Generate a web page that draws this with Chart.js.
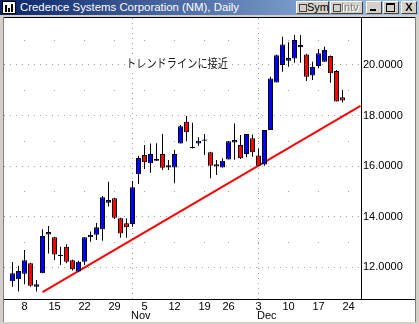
<!DOCTYPE html>
<html lang="ja">
<head>
<meta charset="utf-8">
<title>Credence Systems Corporation (NM), Daily</title>
<script src="https://cdn.jsdelivr.net/npm/chart.js@4.4.1/dist/chart.umd.min.js"></script>
<style>
    html, body { margin: 0; padding: 0; background: #ffffff; }
    #ventana { position: relative; width: 419px; height: 324px; overflow: hidden; background: #ffffff;
               font-family: "Liberation Sans", Arial, sans-serif; }
    #grafico { position: absolute; left: 0; top: 0; }
    .marco { position: absolute; background: #d4d0c8; }
    .titulo { position: absolute; left: 0; top: 0; width: 419px; height: 15px;
              background: linear-gradient(to right, #0a246a, #a6caf0); }
    .titulo-texto { position: absolute; left: 20px; top: 0; line-height: 15px; font-size: 11.4px; color: #ffffff;
                    white-space: nowrap; }
    .icono { position: absolute; left: 2px; top: 1px; width: 12px; height: 11px; background: #ffffff;
             border: 1px solid #000000; }
    .icono i { position: absolute; bottom: 1px; width: 2px; background: #000000; }
    .boton { position: absolute; top: 1px; height: 13px; box-sizing: border-box; background: #d4d0c8;
             border-top: 1px solid #ffffff; border-left: 1px solid #ffffff;
             border-right: 1px solid #404040; border-bottom: 1px solid #404040;
             font-size: 11px; line-height: 11px; color: #000000; white-space: nowrap; }
    .casilla { position: absolute; left: 2px; top: 2px; width: 6px; height: 6px; border: 1px solid #404040;
               background: #d4d0c8; }
    .boton span { position: absolute; left: 10px; top: 0; }
    .deshabilitado span { color: #808080; text-shadow: 1px 1px 0 #ffffff; }
</style>
</head>
<body>
<div id="ventana">
    <canvas id="grafico" width="419" height="324"></canvas>

    <div class="titulo">
        <div class="icono"><i style="left:2px;height:7px"></i><i style="left:5px;height:4px"></i><i style="left:8px;height:8px"></i></div>
        <div class="titulo-texto">Credence Systems Corporation (NM), Daily</div>
        <div class="boton" style="left:296px;width:33px"><div class="casilla"></div><span>Sym</span></div>
        <div class="boton deshabilitado" style="left:330px;width:33px"><div class="casilla"></div><span>Intv</span></div>
        <div class="boton" style="left:366px;width:16px"><div style="position:absolute;left:3px;top:7px;width:6px;height:2px;background:#000"></div></div>
        <div class="boton" style="left:383px;width:16px"><div style="position:absolute;left:2px;top:1px;width:7px;height:6px;border:1px solid #000;border-top-width:2px"></div></div>
        <div class="boton" style="left:401px;width:16px;font-weight:bold;text-align:center;line-height:11px">X</div>
    </div>
    <div class="marco" style="left:0;top:15px;width:419px;height:2px"></div>
    <div class="marco" style="left:3px;top:17px;width:413px;height:1px;background:#000000"></div>
    <div class="marco" style="left:0;top:15px;width:3px;height:309px"></div>
    <div class="marco" style="left:3px;top:17px;width:1px;height:307px;background:#808080"></div>
    <div class="marco" style="left:415px;top:17px;width:1px;height:307px;background:#808080"></div>
    <div class="marco" style="left:416px;top:15px;width:3px;height:309px"></div>
    <div class="marco" style="left:0;top:322px;width:419px;height:2px"></div>
</div>

<script>
/**
 * Grafico diario de velas de Credence Systems (NM), oct-dic 2001,
 * con la linea de tendencia alcista y la nota "トレンドラインに接近".
 * Velas: barras flotantes de Chart.js (mecha fina + cuerpo con borde).
 */
"use strict";

// Sesiones (dias habiles, sin el feriado del 22 de noviembre)
var dias = [
    "10/4", "10/5", "10/8", "10/9", "10/10", "10/11", "10/12", "10/15", "10/16", "10/17",
    "10/18", "10/19", "10/22", "10/23", "10/24", "10/25", "10/26", "10/29", "10/30", "10/31",
    "11/1", "11/2", "11/5", "11/6", "11/7", "11/8", "11/9", "11/12", "11/13", "11/14",
    "11/15", "11/16", "11/19", "11/20", "11/21", "11/23", "11/26", "11/27", "11/28", "11/29",
    "11/30", "12/3", "12/4", "12/5", "12/6", "12/7", "12/10", "12/11", "12/12", "12/13",
    "12/14", "12/17", "12/18", "12/19", "12/20", "12/21"
];
var aperturas = [
    11.45, 11.53, 11.74, 12.16, 11.23, 11.76, 13.30, 13.19, 12.45, 12.81,
    12.28, 11.83, 12.22, 13.19, 13.29, 13.50, 14.55, 14.73, 13.94, 13.74,
    13.71, 15.68, 16.44, 16.11, 16.21, 16.48, 16.04, 15.95, 16.90, 17.76,
    16.72, 16.90, 17.00, 16.55, 16.08, 15.95, 16.26, 16.94, 16.84, 16.48,
    17.10, 16.42, 16.07, 17.43, 19.31, 20.00, 20.17, 20.26, 20.70, 20.42,
    19.58, 19.96, 20.13, 20.36, 19.76, 18.72
];
var maximos = [
    12.21, 12.06, 12.68, 12.18, 11.50, 13.50, 13.63, 13.21, 12.81, 12.91,
    12.30, 12.26, 13.19, 13.42, 13.75, 14.82, 15.38, 14.75, 13.96, 13.94,
    15.41, 16.41, 16.84, 16.90, 16.91, 17.27, 16.24, 16.64, 17.63, 17.98,
    17.72, 17.14, 17.27, 16.57, 16.24, 16.31, 16.99, 17.69, 17.23, 17.27,
    17.25, 16.70, 17.43, 19.54, 20.42, 21.12, 20.90, 21.19, 21.19, 20.44,
    20.13, 20.63, 20.72, 20.38, 19.80, 19.01
];
var minimos = [
    11.23, 11.04, 11.33, 11.23, 11.04, 11.76, 12.55, 12.29, 12.09, 12.16,
    11.87, 11.81, 12.09, 13.01, 13.08, 13.05, 14.40, 13.91, 13.17, 13.17,
    13.60, 15.29, 15.89, 15.74, 16.20, 15.85, 15.85, 15.32, 16.90, 16.98,
    16.70, 16.81, 16.44, 15.52, 15.65, 15.95, 16.26, 16.25, 16.28, 16.35,
    16.37, 16.00, 16.02, 17.43, 19.31, 19.73, 19.93, 20.09, 20.09, 19.37,
    19.41, 19.87, 20.13, 19.30, 18.56, 18.52
];
var cierres = [
    11.76, 11.85, 12.28, 11.27, 11.33, 13.24, 13.40, 12.51, 12.50, 12.22,
    11.92, 12.22, 13.19, 13.29, 13.58, 14.77, 14.66, 13.96, 13.34, 13.58,
    15.17, 16.32, 16.15, 16.48, 16.28, 15.94, 15.95, 16.48, 17.58, 17.34,
    16.77, 17.00, 17.05, 16.02, 15.99, 16.21, 16.98, 17.03, 16.31, 17.27,
    16.55, 16.02, 17.43, 19.47, 20.39, 20.81, 20.28, 20.99, 20.79, 19.54,
    19.93, 20.46, 20.59, 19.67, 18.56, 18.60
];

// Eje X: lunes de cada semana (posicion = numero de sesion) y meses
var semanaIdx = [3, 8, 13, 18, 23, 28, 33, 37, 42, 47, 52, 57];
var semanaEtiquetas = ["8", "15", "22", "29", "5", "12", "19", "26", "3", "10", "17", "24"];
var mesIdx = [21, 42];
var mesEtiquetas = ["Nov", "Dec"];

// Eje Y
var yTicks = [12, 14, 16, 18, 20];
var yPuntos = [13, 15, 17, 19, 21];

// Linea de tendencia (sesion, precio)
var tendenciaX = [6, 59];
var tendenciaY = [11.02, 18.38];

var nota = "トレンドラインに接近";

(function () {
    var FUENTE = "'Liberation Sans', Arial, sans-serif";

    /** Lineas de mes, cuadricula de puntos y prolongacion del eje X. */
    var decoraciones = {
        id: "decoraciones",
        beforeDatasetsDraw: function (chart) {
            var ctx = chart.ctx, area = chart.chartArea;
            var x = chart.scales.x, y = chart.scales.y;
            ctx.save();
            ctx.strokeStyle = "#a0a0a0";
            ctx.lineWidth = 1;
            ctx.setLineDash([1, 4]);
            mesIdx.forEach(function (i) {
                var px = x.getPixelForValue(i);
                ctx.beginPath();
                ctx.moveTo(px, area.top);
                ctx.lineTo(px, area.bottom);
                ctx.stroke();
            });
            ctx.fillStyle = "#a0a0a0";
            semanaIdx.forEach(function (i) {
                var px = Math.floor(x.getPixelForValue(i));
                yPuntos.forEach(function (v) {
                    ctx.fillRect(px, Math.round(y.getPixelForValue(v)), 1, 1);
                });
            });
            ctx.restore();
        },
        afterDraw: function (chart) {
            var ctx = chart.ctx, area = chart.chartArea, x = chart.scales.x;
            ctx.save();
            ctx.strokeStyle = "#000000";
            ctx.lineWidth = 1;
            ctx.beginPath();
            ctx.moveTo(area.right, area.bottom + 0.5);
            ctx.lineTo(415, area.bottom + 0.5);
            ctx.stroke();

            ctx.fillStyle = "#000000";
            ctx.font = "11px " + FUENTE;
            ctx.textAlign = "left";
            ctx.textBaseline = "middle";
            mesIdx.forEach(function (i, k) {
                ctx.fillText(mesEtiquetas[k], Math.floor(x.getPixelForValue(i)) - 1, 316);
            });

            // nota en japones, sobre fondo blanco
            ctx.fillStyle = "#ffffff";
            ctx.fillRect(125, 56, 105, 14);
            ctx.font = "12px 'Noto Sans CJK JP', sans-serif";
            var ancho = ctx.measureText(nota).width;
            ctx.translate(126, 63);
            ctx.scale(102 / ancho, 1);
            ctx.fillStyle = "#1a1a1a";
            ctx.fillText(nota, 0, 0);
            ctx.restore();
        }
    };

    var velas = dias.map(function (d, i) { return i + 1; });
    var colores = velas.map(function (n, i) {
        return cierres[i] >= aperturas[i] ? "#0000ff" : "#ff0000";
    });

    new Chart(document.getElementById("grafico").getContext("2d"), {
        type: "bar",
        data: {
            datasets: [{
                type: "line",
                data: tendenciaX.map(function (v, i) { return { x: v, y: tendenciaY[i] }; }),
                borderColor: "#ff0000",
                borderWidth: 2,
                pointRadius: 0,
                fill: false,
                order: 3
            }, {
                data: velas.map(function (n, i) { return { x: n, y: [minimos[i], maximos[i]] }; }),
                backgroundColor: "#000000",
                borderWidth: 0,
                barThickness: 1,
                inflateAmount: 0,
                grouped: false,
                order: 2
            }, {
                data: velas.map(function (n, i) { return { x: n, y: [aperturas[i], cierres[i]] }; }),
                backgroundColor: colores,
                borderColor: "#000000",
                borderWidth: 1,
                borderSkipped: false,
                barThickness: 5,
                inflateAmount: 0,
                grouped: false,
                order: 1
            }]
        },
        options: {
            responsive: false,
            animation: false,
            events: [],
            layout: { padding: { left: 4, top: 18, right: 0, bottom: 0 } },
            plugins: { legend: { display: false }, tooltip: { enabled: false } },
            scales: {
                x: {
                    type: "linear",
                    min: 1 - 8.5 / 6,
                    max: 1 + 348.5 / 6,
                    offset: false,
                    grid: { display: false, drawTicks: false },
                    border: { display: true, color: "#000000", width: 1 },
                    afterBuildTicks: function (s) {
                        s.ticks = semanaIdx.map(function (v) { return { value: v }; });
                    },
                    afterFit: function (s) { s.height = 25; },
                    ticks: {
                        autoSkip: false,
                        maxRotation: 0,
                        padding: 1,
                        color: "#000000",
                        font: { family: FUENTE, size: 11 },
                        callback: function (v) {
                            var k = semanaIdx.indexOf(v);
                            return k >= 0 ? semanaEtiquetas[k] : "";
                        }
                    }
                },
                y: {
                    position: "right",
                    min: 10.7464,
                    max: 21.8586,
                    grid: { color: "#a0a0a0", drawTicks: false },
                    border: { display: true, color: "#000000", width: 1, dash: [1, 5] },
                    afterBuildTicks: function (s) {
                        s.ticks = yTicks.map(function (v) { return { value: v }; });
                    },
                    afterFit: function (s) { s.width = 58; },
                    ticks: {
                        padding: 2,
                        color: "#000000",
                        font: { family: FUENTE, size: 11 },
                        callback: function (v) { return Number(v).toFixed(4); }
                    }
                }
            }
        },
        plugins: [decoraciones]
    });
})();
</script>
</body>
</html>
